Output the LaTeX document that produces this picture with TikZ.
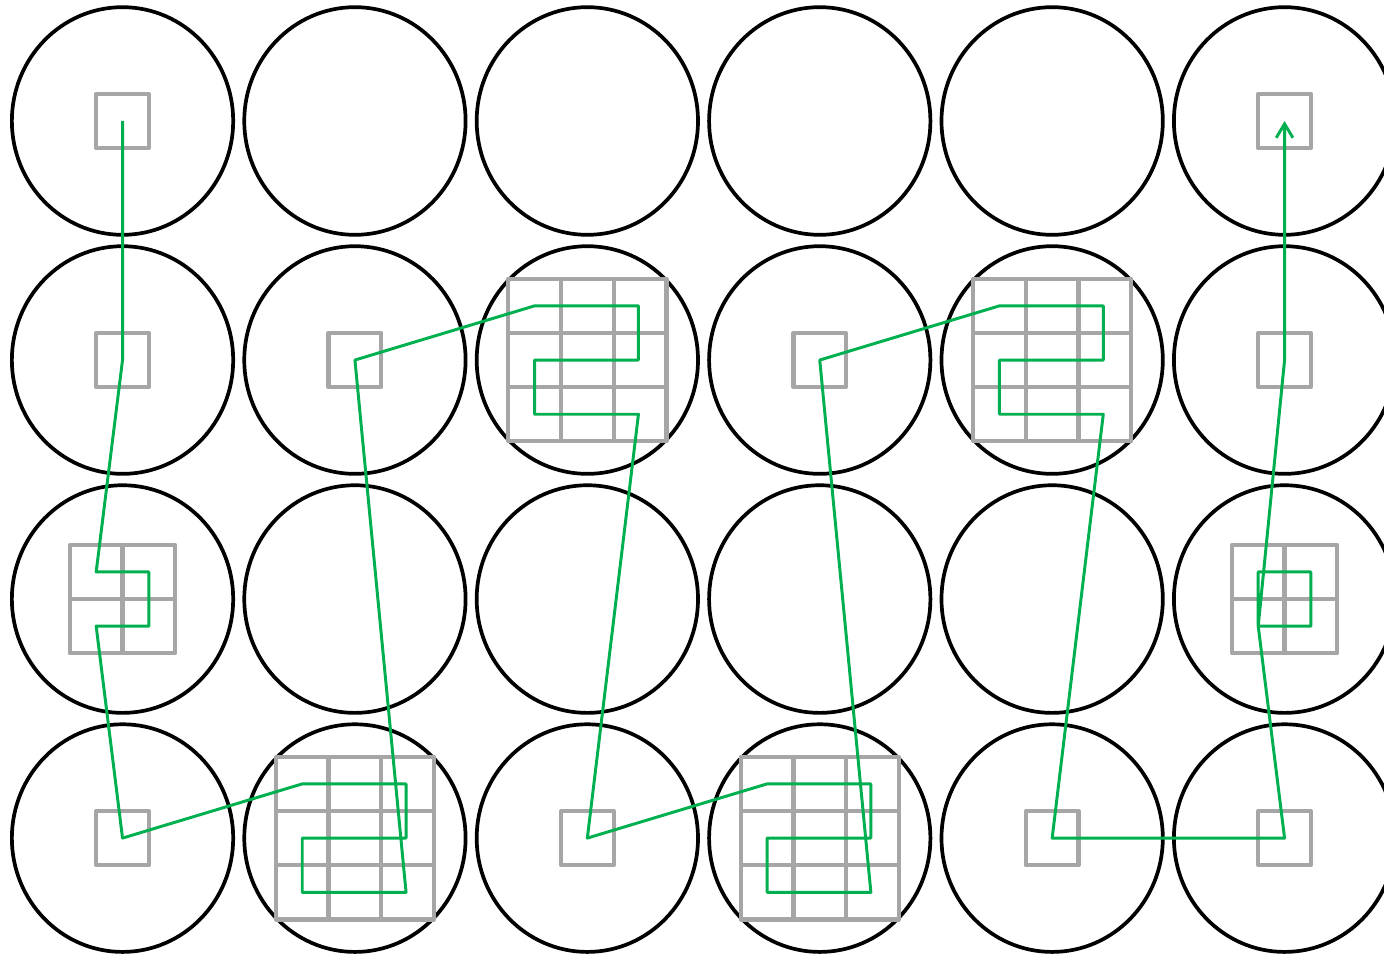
\documentclass[tikz,border=0pt]{standalone}
\usetikzlibrary{calc, arrows.meta}

\definecolor{verde}{RGB}{0,176,80}
\definecolor{grigio}{RGB}{166,166,166}

\begin{document}
\begin{tikzpicture}[x=1cm, y=1.0285cm, >={Straight Barb[length=7.5pt, width=9pt]},
        cerchio/.style={draw=black, line width=2pt},
        cella/.style={draw=grigio, line width=2.3pt, line join=round},
        percorso/.style={draw=verde, line width=1.6pt, line join=round}]

    % Margini
    \useasboundingbox (-2.325, -15.424) rectangle (23.937, 2.2325);

    % Cerchi (6 colonne x 4 righe)
    \foreach \i in {0,...,5} {
        \foreach \j in {0,...,3} {
            \coordinate (c\i\j) at (4.41*\i, -4.41*\j);
            \draw[cerchio] (c\i\j) circle[radius=2.1];
        }
    }

    % Celle singole
    \foreach \p in {00,50,01,11,31,51,03,23,43,53} {
        \draw[cella] ($(c\p)+(-0.5,-0.5)$) rectangle ++(1,1);
    }

    % Griglie 2x2
    \foreach \p in {02,52} {
        \foreach \a in {-0.5,0.5} {
            \foreach \b in {-0.5,0.5} {
                \draw[cella] ($(c\p)+(\a-0.5,\b-0.5)$) rectangle ++(1,1);
            }
        }
    }

    % Griglie 3x3
    \foreach \p in {21,41,13,33} {
        \foreach \a in {-1,0,1} {
            \foreach \b in {-1,0,1} {
                \draw[cella] ($(c\p)+(\a-0.5,\b-0.5)$) rectangle ++(1,1);
            }
        }
    }

    % Percorso
    \draw[percorso, ->] (c00) -- (c01)
        -- ($(c02)+(-0.5,0.5)$) -- ($(c02)+(0.5,0.5)$) -- ($(c02)+(0.5,-0.5)$) -- ($(c02)+(-0.5,-0.5)$)
        -- (c03)
        -- ($(c13)+(-1,1)$) -- ($(c13)+(0.97,1)$) -- ($(c13)+(0.97,0)$) -- ($(c13)+(-1,0)$) -- ($(c13)+(-1,-1)$) -- ($(c13)+(0.97,-1)$)
        -- (c11)
        -- ($(c21)+(-1,1)$) -- ($(c21)+(0.97,1)$) -- ($(c21)+(0.97,0)$) -- ($(c21)+(-1,0)$) -- ($(c21)+(-1,-1)$) -- ($(c21)+(0.97,-1)$)
        -- (c23)
        -- ($(c33)+(-1,1)$) -- ($(c33)+(0.97,1)$) -- ($(c33)+(0.97,0)$) -- ($(c33)+(-1,0)$) -- ($(c33)+(-1,-1)$) -- ($(c33)+(0.97,-1)$)
        -- (c31)
        -- ($(c41)+(-1,1)$) -- ($(c41)+(0.97,1)$) -- ($(c41)+(0.97,0)$) -- ($(c41)+(-1,0)$) -- ($(c41)+(-1,-1)$) -- ($(c41)+(0.97,-1)$)
        -- (c43) -- (c53)
        -- ($(c52)+(-0.5,-0.5)$) -- ($(c52)+(0.5,-0.5)$) -- ($(c52)+(0.5,0.5)$) -- ($(c52)+(-0.5,0.5)$) -- ($(c52)+(-0.5,-0.5)$)
        -- (c51) -- (c50);

\end{tikzpicture}
\end{document}
